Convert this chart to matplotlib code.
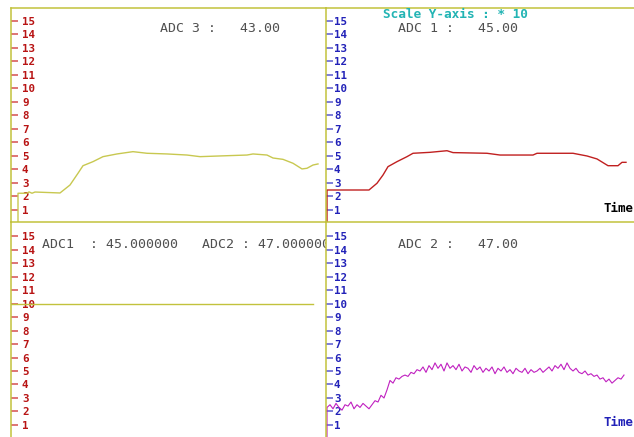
import numpy as np
import matplotlib
matplotlib.use('Agg')
import matplotlib.pyplot as plt

# ---------------- data ----------------
y_ticks = list(range(1, 16))
y_labels = [str(v) for v in y_ticks]

# ADC 3 (top-left, yellow)
adc3_t = [0, 0, 9, 11, 14, 17, 42, 52, 60, 65, 75, 85, 99, 115, 129, 149, 169, 182,
          209, 229, 235, 249, 255, 265, 275, 284, 289, 295, 300]
adc3_v = [0.0, 2.24, 2.24, 2.34, 2.24, 2.33, 2.26, 2.85, 3.72, 4.28, 4.58, 4.95, 5.15,
          5.32, 5.2, 5.15, 5.07, 4.95, 5.02, 5.07, 5.15, 5.07, 4.85, 4.75, 4.46, 4.04,
          4.09, 4.33, 4.41]

# ADC 1 (top-right, red)
adc1_t = [0, 0, 42, 50, 56, 61, 70, 80, 86, 103, 120, 126, 160, 173, 206, 210, 246,
          260, 270, 281, 291, 295, 299]
adc1_v = [0.0, 2.48, 2.48, 2.98, 3.59, 4.21, 4.58, 4.95, 5.2, 5.27, 5.39, 5.25, 5.2,
          5.07, 5.07, 5.2, 5.2, 5.0, 4.78, 4.28, 4.28, 4.53, 4.53]

# ADC 2 (bottom-right, magenta, noisy) sampled every 3 time steps
adc2_v = [2.3, 2.5, 2.2, 2.6, 2.3, 2.1, 2.5, 2.4, 2.7, 2.2, 2.5, 2.3, 2.6, 2.4, 2.2, 2.5,
          2.8, 2.7, 3.2, 3.0, 3.6, 4.3, 4.1, 4.5, 4.4, 4.6, 4.7, 4.6, 4.9, 4.8, 5.1, 5.0,
          5.3, 4.9, 5.4, 5.1, 5.6, 5.2, 5.5, 5.0, 5.6, 5.2, 5.4, 5.1, 5.5, 5.0, 5.3, 5.2,
          4.9, 5.4, 5.1, 5.3, 4.9, 5.2, 5.0, 5.3, 4.8, 5.2, 5.0, 5.3, 4.9, 5.1, 4.8, 5.2,
          5.0, 4.9, 5.2, 4.8, 5.1, 4.9, 5.0, 5.2, 4.9, 5.1, 5.3, 5.0, 5.4, 5.2, 5.5, 5.1,
          5.6, 5.2, 5.0, 5.2, 4.9, 4.8, 5.0, 4.7, 4.8, 4.6, 4.7, 4.4, 4.5, 4.2, 4.4, 4.1,
          4.3, 4.5, 4.4, 4.7]
adc2_step = 3

# ADC1/ADC2 level (bottom-left)
level_t = [-7, 295]
level_v = [10.0, 10.0]

# ---------------- style ----------------
W, H = 634, 437
OLIVE = '#c2c23c'
RED_LBL = '#b81414'
RED_TICK = '#d45050'
BLUE_LBL = '#2222b8'
BLUE_TICK = '#5a5ad0'
GRAY = '#505050'
CYAN = '#22b4b4'

fig = plt.figure(figsize=(W / 100, H / 100), dpi=100)
fig.patch.set_facecolor('white')


def px_axes(x0, y0, x1, y1):
    return fig.add_axes([x0 / W, 1 - y1 / H, (x1 - x0) / W, (y1 - y0) / H])


def style(ax, ylim, xlim, lbl_color, tick_color, pad_px):
    ax.set_xlim(*xlim)
    ax.set_ylim(*ylim)
    ax.set_xticks([])
    ax.set_yticks(y_ticks)
    ax.set_yticklabels(y_labels)
    ax.tick_params(axis='y', direction='in', length=5.0, width=1.1, color=tick_color,
                   pad=-pad_px * 0.72, labelcolor=lbl_color, labelsize=7.8)
    for lbl in ax.get_yticklabels():
        lbl.set_ha('left')
        lbl.set_fontfamily('DejaVu Sans Mono')
        lbl.set_fontweight('bold')
    for s in ax.spines.values():
        s.set_visible(False)
    ax.spines['left'].set_visible(True)
    ax.spines['left'].set_color(OLIVE)
    ax.spines['left'].set_linewidth(1.1)
    ax.patch.set_alpha(0)


ax_tl = px_axes(11, 8, 326, 222)
ax_tr = px_axes(326, 8, 634, 222)
ax_bl = px_axes(11, 222, 326, 437)
ax_br = px_axes(326, 222, 634, 437)

top_ylim = (0.11, 15.96)
bot_ylim = (0.11, 16.04)
left_xlim = (-7, 308)
right_xlim = (-1, 307)

style(ax_tl, top_ylim, left_xlim, RED_LBL, RED_TICK, 11)
style(ax_bl, bot_ylim, left_xlim, RED_LBL, RED_TICK, 11)
style(ax_tr, top_ylim, right_xlim, BLUE_LBL, BLUE_TICK, 8)
style(ax_br, bot_ylim, right_xlim, BLUE_LBL, BLUE_TICK, 8)

for ax in (ax_tl, ax_tr):
    for side in ('top', 'bottom'):
        ax.spines[side].set_visible(True)
        ax.spines[side].set_color(OLIVE)
        ax.spines[side].set_linewidth(1.1)

# curves
ax_tl.plot(adc3_t, adc3_v, color='#c8c850', lw=1.0)
ax_tr.plot(adc1_t, adc1_v, color='#c02020', lw=1.0)
adc2_t = [i * adc2_step for i in range(len(adc2_v))]
ax_br.plot([0] + adc2_t, [0.0] + adc2_v, color='#c020c0', lw=0.8)
ax_bl.plot(level_t, level_v, color=OLIVE, lw=1.0)

# texts
mono = 'DejaVu Sans Mono'


def ftxt(x, y, s, **kw):
    return fig.text(x / W, 1 - y / H, s, va='center', ha='left', family=mono, **kw)


ftxt(160, 29, 'ADC 3 :   43.00', color=GRAY, fontsize=9.5)
ftxt(383, 15, 'Scale Y-axis : * 10', color=CYAN, fontsize=9.2, fontweight='bold')
ftxt(398, 29, 'ADC 1 :   45.00', color=GRAY, fontsize=9.5)
ftxt(398, 244, 'ADC 2 :   47.00', color=GRAY, fontsize=9.5)
t = ax_bl.text(42 / W, 1 - 244 / H, 'ADC1  : 45.000000   ADC2 : 47.000000',
               transform=fig.transFigure, va='center', ha='left', family=mono,
               color=GRAY, fontsize=9.5)
t.set_clip_box(ax_bl.bbox)
t.set_clip_on(True)
ftxt(603, 208, 'Time', color='black', fontsize=9, fontweight='bold')
ftxt(603, 423, 'Time', color=BLUE_LBL, fontsize=9, fontweight='bold')

fig.savefig('out.png', dpi=100, facecolor='white')
